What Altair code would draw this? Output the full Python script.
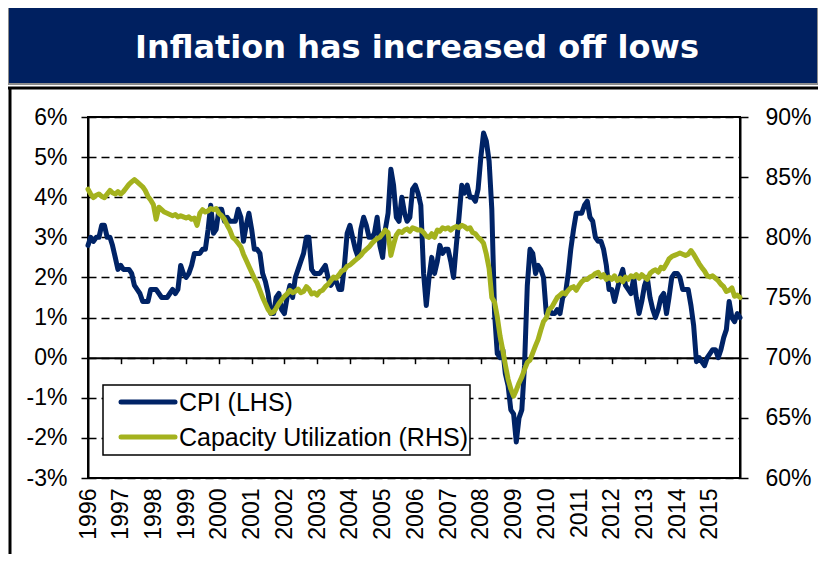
import altair as alt
import pandas as pd

title = "Inflation has increased off lows"
series = ["CPI (LHS)", "Capacity Utilization (RHS)"]
colors = ["#002366", "#a4b21e"]
years = list(range(1996, 2016))
tick_years = list(range(1997, 2015))
left_ticks = [-3, -2, -1, 0, 1, 2, 3, 4, 5, 6]
right_ticks = [60, 65, 70, 75, 80, 85, 90]

# monthly, Jun 1996 - May 2016
cpi = [
    2.8, 3.0, 2.9, 3.0, 3.0, 3.3, 3.3,
    3.0, 3.0, 2.8, 2.5, 2.2, 2.3, 2.2, 2.2, 2.2, 2.1, 1.8, 1.7,
    1.6, 1.4, 1.4, 1.4, 1.7, 1.7, 1.7, 1.6, 1.5, 1.5, 1.5, 1.6,
    1.7, 1.6, 1.7, 2.3, 2.1, 2.0, 2.1, 2.3, 2.6, 2.6, 2.6, 2.7,
    2.7, 3.2, 3.8, 3.1, 3.2, 3.7, 3.7, 3.4, 3.5, 3.4, 3.4, 3.4,
    3.7, 3.5, 2.9, 3.3, 3.6, 3.2, 2.7, 2.7, 2.6, 2.1, 1.9, 1.6,
    1.1, 1.1, 1.5, 1.6, 1.2, 1.1, 1.5, 1.8, 1.5, 2.0, 2.2, 2.4,
    2.6, 3.0, 3.0, 2.2, 2.1, 2.1, 2.1, 2.2, 2.3, 2.0, 1.8, 1.9,
    1.9, 1.7, 1.7, 2.3, 3.1, 3.3, 3.0, 2.7, 2.5, 3.2, 3.5, 3.3,
    3.0, 3.0, 3.1, 3.5, 2.8, 2.5, 3.2, 3.6, 4.7, 4.3, 3.5, 3.4,
    4.0, 3.6, 3.4, 3.5, 4.2, 4.3, 4.1, 3.8, 2.1, 1.3, 2.0, 2.5,
    2.1, 2.4, 2.8, 2.6, 2.7, 2.7, 2.4, 2.0, 2.8, 3.5, 4.3, 4.1,
    4.3, 4.0, 4.0, 3.9, 4.2, 5.0, 5.6, 5.4, 4.9, 3.7, 1.1, 0.1,
    0.0, 0.2, -0.4, -0.7, -1.3, -1.4, -2.1, -1.5, -1.3, -0.2, 1.8, 2.7,
    2.6, 2.1, 2.3, 2.2, 2.0, 1.1, 1.2, 1.1, 1.1, 1.2, 1.1, 1.5,
    1.6, 2.1, 2.7, 3.2, 3.6, 3.6, 3.6, 3.8, 3.9, 3.5, 3.4, 3.0,
    2.9, 2.9, 2.7, 2.3, 1.7, 1.7, 1.4, 1.7, 2.0, 2.2, 1.8, 1.7,
    1.6, 2.0, 1.5, 1.1, 1.4, 1.8, 2.0, 1.5, 1.2, 1.0, 1.2, 1.5,
    1.6, 1.1, 1.5, 2.0, 2.1, 2.1, 2.0, 1.7, 1.7, 1.7, 1.3, 0.8,
    -0.1, 0.0, -0.1, -0.2, 0.0, 0.1, 0.2, 0.2, 0.0, 0.2, 0.5, 0.7,
    1.4, 1.0, 0.9, 1.1, 1.0,
]

cu = [
    84.0, 83.6, 83.3, 83.5, 83.6, 83.4, 83.3, 83.6, 83.9, 83.7, 83.6, 83.8,
    83.6, 83.8, 84.1, 84.4, 84.6, 84.8, 84.6, 84.4, 84.2, 83.9, 83.4, 83.1,
    82.7, 81.5, 82.5, 82.3, 82.1, 82.0, 81.9, 81.8, 81.9, 81.7, 81.8, 81.7,
    81.6, 81.7, 81.5, 81.6, 81.0, 82.0, 82.3, 82.1, 82.2, 82.4, 82.3, 82.4,
    82.0, 81.8, 81.5, 81.0, 80.6, 80.0, 79.8, 79.5, 79.2, 78.6, 78.1, 77.6,
    77.1, 76.6, 76.2, 75.6, 75.0, 74.5, 74.0, 73.7, 73.8, 74.1, 74.5, 74.8,
    75.1, 75.3, 75.6, 75.4, 75.5, 75.7, 75.4, 75.5, 75.9, 75.7, 75.3, 75.4,
    75.2, 75.5, 75.6, 75.9, 76.1, 76.4, 76.7, 76.6, 76.9, 77.2, 77.3, 77.6,
    77.7, 77.9, 78.1, 78.3, 78.5, 78.8, 79.0, 79.2, 79.5, 79.7, 79.9, 80.0,
    80.3, 80.6, 80.4, 78.5, 79.4, 80.2, 80.5, 80.4, 80.6, 80.7, 80.5, 80.8,
    80.7, 80.6, 80.6, 80.4, 80.1, 80.0, 80.3, 80.0, 80.6, 80.5, 80.8, 80.7,
    80.8, 80.6, 80.8, 80.9, 80.8, 81.0, 80.9, 80.7, 80.8, 80.4, 80.3, 80.0,
    79.8, 79.5, 78.6, 77.4, 75.0, 74.6, 73.4, 71.8, 70.6, 69.4, 68.2, 67.4,
    66.8, 67.3, 67.9, 68.4, 69.0, 69.6, 69.8, 70.4, 71.0, 71.5, 72.3, 73.0,
    73.3, 74.0, 74.2, 74.6, 75.0, 75.2, 75.4, 75.3, 75.6, 75.8, 75.9, 75.6,
    76.0, 76.3, 76.5, 76.5, 76.7, 76.8, 77.0, 77.1, 76.7, 76.9, 76.5, 76.7,
    76.5, 76.8, 76.4, 76.6, 76.3, 76.7, 76.5, 76.8, 76.7, 76.9, 76.6, 76.9,
    76.7, 76.5, 77.0, 77.2, 77.3, 77.1, 77.5, 77.4, 77.8, 78.2, 78.4, 78.5,
    78.6, 78.7, 78.6, 78.5, 78.6, 78.9, 78.6, 78.2, 77.8, 77.5, 77.2, 76.8,
    76.7, 76.8, 76.6, 76.4, 76.1, 75.9, 75.5, 75.6, 75.8, 75.1, 75.2, 75.0,
]

dates = pd.date_range("1996-06-01", periods=len(cpi), freq="MS")
df = pd.DataFrame({"date": dates, "cpi": cpi, "cu": cu})

W, H = 652, 361
FONT = "Liberation Sans"

x_scale = alt.Scale(
    domain=[alt.DateTime(year=1996, month=6, date=1), alt.DateTime(year=2016, month=5, date=1)],
    nice=False,
)

label_axis = alt.Axis(
    orient="bottom", values=[alt.DateTime(year=y, month=6, date=1) for y in years],
    format="%Y", labelAngle=-90, ticks=False, domain=False, grid=False, title=None,
    labelFont=FONT, labelFontSize=23, labelColor="black", labelPadding=10,
    labelOverlap=False, labelFlush=False,
)
tick_axis = alt.Axis(
    orient="bottom", offset=-(H - H * 6 / 9), values=[alt.DateTime(year=y, month=6, date=1) for y in tick_years],
    labels=False, ticks=True, tickSize=6, tickWidth=1.5, tickColor="black",
    domain=True, domainColor="black", domainWidth=2, grid=False, title=None,
)

cpi_line = alt.Chart(df).mark_line(
    color=colors[0], strokeWidth=5, strokeJoin="round", strokeCap="round"
).encode(
    x=alt.X("date:T", scale=x_scale, axis=label_axis),
    y=alt.Y(
        "cpi:Q",
        scale=alt.Scale(domain=[-3, 6], nice=False, zero=False),
        axis=alt.Axis(
            orient="left", values=left_ticks, labelExpr="datum.value + '%'", title=None,
            labelFont=FONT, labelFontSize=23, labelColor="black", labelPadding=14,
            tickSize=7, tickWidth=1.5, tickColor="black",
            domain=True, domainColor="black", domainWidth=2,
            grid=True, gridColor="black", gridWidth=1.6, gridDash=[8, 5],
        ),
    ),
)

cu_line = alt.Chart(df).mark_line(
    color=colors[1], strokeWidth=5, strokeJoin="round", strokeCap="round"
).encode(
    x=alt.X("date:T", scale=x_scale, axis=tick_axis),
    y=alt.Y(
        "cu:Q",
        scale=alt.Scale(domain=[60, 90], nice=False, zero=False),
        axis=alt.Axis(
            orient="right", values=right_ticks, labelExpr="datum.value + '%'", title=None,
            labelFont=FONT, labelFontSize=23, labelColor="black", labelPadding=17,
            tickSize=8, tickWidth=1.5, tickColor="black",
            domain=True, domainColor="black", domainWidth=2, grid=False,
        ),
    ),
)

one = pd.DataFrame({"t": [title]})

banner = alt.Chart(one).mark_rect(fill="#002060", stroke="#8c8c8c", strokeWidth=2).encode(
    x=alt.value(-80), x2=alt.value(730), y=alt.value(-112), y2=alt.value(-33)
)
banner_text = alt.Chart(one).mark_text(
    font="DejaVu Sans", fontWeight="bold", fontSize=32, color="white",
    align="center", baseline="middle",
).encode(x=alt.value(329), y=alt.value(-69), text="t:N")

frame_top = alt.Chart(one).mark_rule(color="black", strokeWidth=3).encode(
    x=alt.value(-80), x2=alt.value(730), y=alt.value(-29)
)
frame_left = alt.Chart(one).mark_rule(color="black", strokeWidth=3).encode(
    x=alt.value(-78), y=alt.value(-29), y2=alt.value(440)
)

legend_box = alt.Chart(one).mark_rect(fill="white", stroke="black", strokeWidth=1.5).encode(
    x=alt.value(15), x2=alt.value(382), y=alt.value(268), y2=alt.value(338)
)
legend_layers = [legend_box]
for i, (name, col) in enumerate(zip(series, colors)):
    ypos = 285 + 35 * i
    d = pd.DataFrame({"name": [name]})
    legend_layers.append(
        alt.Chart(d).mark_rule(color=col, strokeWidth=5, strokeCap="round").encode(
            x=alt.value(33), x2=alt.value(87), y=alt.value(ypos)
        )
    )
    legend_layers.append(
        alt.Chart(d).mark_text(
            font=FONT, fontSize=25, color="black", align="left", baseline="middle"
        ).encode(x=alt.value(91), y=alt.value(ypos + 1), text="name:N")
    )

chart = alt.layer(
    cpi_line, cu_line, banner, banner_text, frame_top, frame_left, *legend_layers
).resolve_scale(y="independent").resolve_axis(x="independent", y="independent").properties(
    width=W, height=H,
    autosize=alt.AutoSizeParams(type="none"),
    padding={"left": 80, "top": 109, "right": 78, "bottom": 76},
).configure_view(stroke="black", strokeWidth=2)

chart.save("out.html", embed_options={"renderer": "svg", "actions": False})
